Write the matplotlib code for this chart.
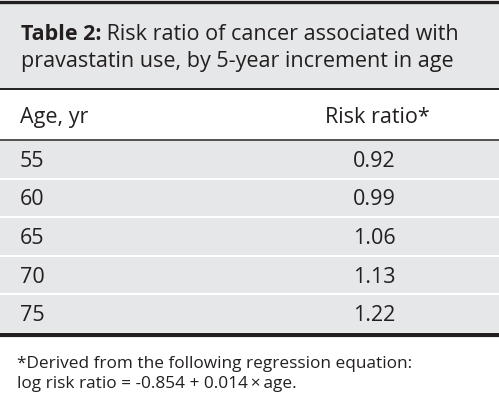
import matplotlib.pyplot as plt
from matplotlib.patches import Rectangle

ages = ["55", "60", "65", "70", "75"]
risk_ratios = ["0.92", "0.99", "1.06", "1.13", "1.22"]
col_labels = ["Age, yr", "Risk ratio*"]
title_bold = "Table 2:"
title_rest = " Risk ratio of cancer associated with"
title_line2 = "pravastatin use, by 5-year increment in age"
footnote = ["*Derived from the following regression equation:",
            "log risk ratio = -0.854 + 0.014\u2009\u00d7\u2009age."]

W, H = 499, 401
gray = "#e6e7e8"
ink = "#231f20"
font = "Open Sans"
fs = 15.5

fig = plt.figure(figsize=(W / 100, H / 100), dpi=100)
ax = fig.add_axes([0, 0, 1, 1])
ax.set_xlim(0, W)
ax.set_ylim(H, 0)
ax.axis("off")

# title block
ax.add_patch(Rectangle((0, 3), W, 85.5, color=gray, lw=0))
ax.axhline(1.5, color=ink, lw=2.4)
t = ax.text(21, 40, title_bold, fontsize=fs, fontweight="bold", family=font,
            color=ink, va="baseline")
fig.canvas.draw()
x_end = ax.transData.inverted().transform((t.get_window_extent().x1, 0))[0]
ax.text(x_end, 40, title_rest, fontsize=fs, family=font, color=ink, va="baseline")
ax.text(21, 67, title_line2, fontsize=fs, family=font, color=ink, va="baseline")

# header
ax.axhline(88.5, color=ink, lw=1.4)
ax.text(20, 123, col_labels[0], fontsize=fs, family=font, color=ink, va="baseline")
ax.text(325, 123, col_labels[1], fontsize=fs, family=font, color=ink, va="baseline")
ax.axhline(139.5, color=ink, lw=1.1)

# data rows
row_top = 141
row_h = 38.6
for i, (age, rr) in enumerate(zip(ages, risk_ratios)):
    top = row_top + i * row_h
    ax.add_patch(Rectangle((0, top), W, row_h - 2, color=gray, lw=0))
    yb = top + (row_h - 2) / 2 + 7.5
    ax.text(20, yb, age, fontsize=fs, family=font, color=ink, va="baseline")
    ax.text(374, yb, rr, fontsize=fs, family=font, color=ink, va="baseline", ha="center")

bottom = row_top + len(ages) * row_h - 2
ax.axhline(bottom + 2.5, color=ink, lw=3)

# footnote
ax.text(17, 368, footnote[0], fontsize=12.4, family=font, color=ink, va="baseline")
ax.text(17, 388, footnote[1], fontsize=12.4, family=font, color=ink, va="baseline")

fig.savefig("out.png", dpi=100)
